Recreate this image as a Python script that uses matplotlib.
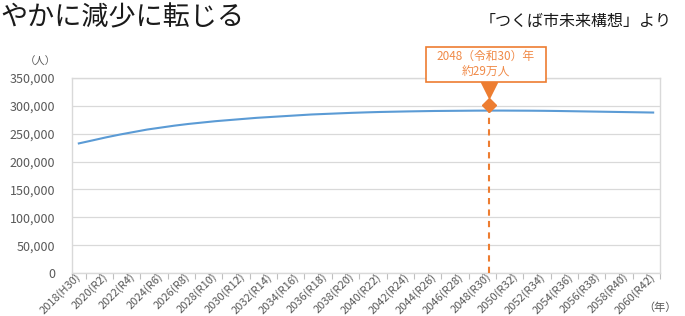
import matplotlib
matplotlib.use("Agg")
import matplotlib.pyplot as plt
from matplotlib.patches import Rectangle
import numpy as np

plt.rcParams['font.family'] = ['Noto Sans CJK JP', 'DejaVu Sans']

# 年ごとの人口推計
years = list(range(2018, 2061))
population = [
    232600, 238000, 243500, 248500, 253000, 257500, 261000, 264500,
    267500, 270000, 272500, 274500, 276500, 278500, 280000, 281500,
    283000, 284500, 285500, 286500, 287500, 288300, 289000, 289500,
    290000, 290400, 290800, 291000, 291200, 291400, 291500, 291500,
    291400, 291300, 291100, 290800, 290400, 290000, 289600, 289200,
    288800, 288400, 288000,
]
label_years = list(range(2018, 2061, 2))
tick_labels = ['2018(H30)'] + ['%d(R%d)' % (y, y - 2018) for y in label_years[1:]]
y_ticks = [0, 50000, 100000, 150000, 200000, 250000, 300000, 350000]

peak_year = 2048
callout_text = '2048（令和30）年\n約29万人'

blue = '#5B9BD5'
orange = '#ED7D31'
grid_c = '#D9D9D9'
text_c = '#595959'

fig = plt.figure(figsize=(6.85, 3.16), dpi=100)
ax = fig.add_axes([72 / 685, 1 - 273 / 316, 588 / 685, 195 / 316])

ax.plot(years, population, color=blue, lw=1.5, zorder=3)

ax.set_xlim(years[0] - 0.5, years[-1] + 0.5)
ax.set_ylim(0, 350000)
ax.set_yticks(y_ticks)
ax.set_yticklabels(['{:,}'.format(v) for v in y_ticks], fontsize=9, color=text_c)
ax.tick_params(axis='y', length=0, pad=12)
ax.grid(axis='y', color=grid_c, lw=0.9)
ax.set_axisbelow(True)

# category boundaries as tick marks, labels at even years
ax.set_xticks(np.arange(years[0] - 0.5, years[-1] + 1, 1.0))
ax.set_xticklabels([])
ax.tick_params(axis='x', which='major', length=4, color='#BFBFBF', width=0.8)
ax.set_xticks(label_years, minor=True)
ax.set_xticklabels(tick_labels, minor=True, rotation=45, ha='right',
                   va='center', rotation_mode='anchor', fontsize=8,
                   color=text_c)
ax.tick_params(axis='x', which='minor', length=0, pad=1.5)

for s in ax.spines.values():
    s.set_color(grid_c)
    s.set_linewidth(1.0)

# 2048年の注記
ax.plot([peak_year, peak_year], [0, 302000], color=orange, lw=1.5,
        ls=(0, (3, 2.5)), zorder=4)
ax.plot(peak_year, 302000, marker='D', ms=7.5, color=orange, zorder=5)
ax.plot(peak_year, 328000, marker='v', ms=11, color=orange, zorder=5,
        clip_on=False)

box = Rectangle((426 / 685, 1 - 82 / 316), 120 / 685, 35 / 316,
                transform=fig.transFigure, fc='white', ec=orange, lw=1.2,
                zorder=6)
fig.patches.append(box)
fig.text(486 / 685, 1 - 64.5 / 316, callout_text, ha='center', va='center',
         fontsize=8.5, color='#F08A48', linespacing=1.25, zorder=7)

fig.text(0, 1 - 18 / 316, 'やかに減少に転じる', fontsize=19.5, ha='left',
         va='center', color='#1a1a1a')
fig.text(672 / 685, 1 - 21 / 316, '「つくば市未来構想」より', fontsize=11.5,
         ha='right', va='center', color='#1a1a1a')
fig.text(40 / 685, 1 - 62 / 316, '（人）', fontsize=7.5, ha='center',
         va='center', color=text_c)
fig.text(660 / 685, 1 - 308 / 316, '（年）', fontsize=8, ha='center',
         va='center', color=text_c)

fig.savefig('out.png', dpi=100)
